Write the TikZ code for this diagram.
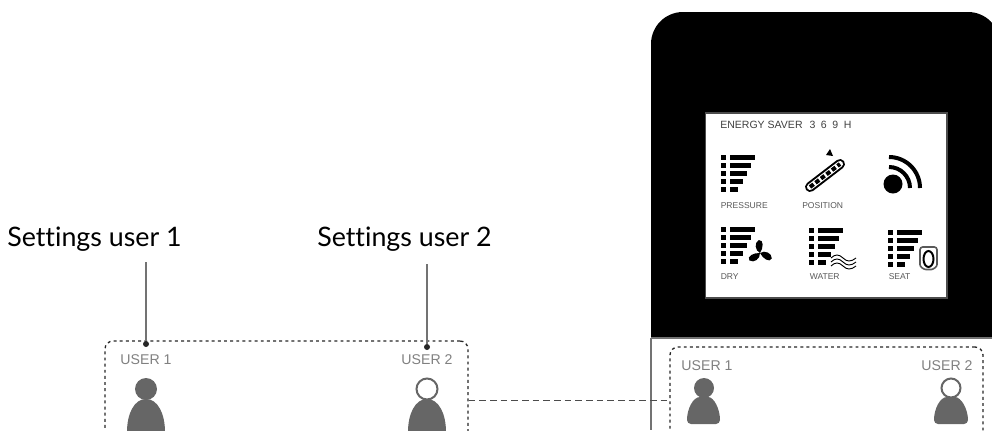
\documentclass[tikz,border=0pt]{standalone}
\usepackage{fontspec}
\setmainfont{Liberation Sans}
\newfontfamily\titlefont[Ligatures=NoCommon]{Lato}
\usetikzlibrary{positioning}
% one block of five level bars, from its top left corner
\newcommand{\levelbars}[2]{
  \foreach \row/\len in {0/25,1/21,2/17,3/13,4/8} {
    \fill (#1,#2+8*\row) rectangle +(5,5);
    \fill (#1+9,#2+8*\row) rectangle +(\len,5);
  }
}
\begin{document}
\begin{tikzpicture}[x=0.75pt,y=-0.75pt,
    title/.style={font=\titlefont\fontsize{20.1}{24}\selectfont, text=black, inner sep=0pt},
    user/.style={font=\fontsize{10.6}{12}\selectfont, text=black!50, inner sep=0pt},
    small/.style={font=\fontsize{6.4}{8}\selectfont, text=black!65, inner sep=0pt, anchor=base west},
    frame/.style={draw=black!85, dash pattern=on 2.2pt off 2.4pt, line width=1pt, rounded corners=6pt, minimum height=#1},
    lead/.style={draw=black!55, line width=1pt},
    tip/.style={circle, fill=black!85, inner sep=0pt, minimum size=4.5pt},
    link/.style={draw=black!70, dash pattern=on 5pt off 3pt, line width=0.7pt}]
  \useasboundingbox (0,0) rectangle (992,430);
  \clip (0,0) rectangle (992,430);
  % phone
  \fill (651,338) -- (651,44) arc[start angle=180, end angle=270, radius=32]
    -- (968,12) arc[start angle=270, end angle=360, radius=32] -- (1000,338) -- cycle;
  \draw[black!55, line width=1.5pt] (651,338) -- (992,338) (651,338) -- (651,430);
  \draw[fill=white, draw=black!70, line width=1pt] (705.5,113) rectangle (947,298);
  \node[inner sep=0pt, anchor=base west, font=\fontsize{7.9}{9}\selectfont, text=black!75] (saver) at (720,128) {ENERGY SAVER\hspace{3pt} 3\hspace{2pt} 6\hspace{2pt} 9\hspace{2pt} H};
  % screen icons
  \levelbars{721}{155}
  \levelbars{721}{227}
  \levelbars{809}{228}
  \levelbars{888}{230}
  \node[small] (pressure) at (720.5,208) {PRESSURE};
  \node[small] (position) at (802,208) {POSITION};
  \node[small] (dry) at (720.5,279) {DRY};
  \node[small] (water) at (809.5,279) {WATER};
  \node[small] (seat) at (888.5,279) {SEAT};
  % position icon
  \draw[line width=7.5pt, line cap=round] (810,187) -- (840,164);
  \draw[line width=4.5pt, white, line cap=round] (810,187) -- (840,164);
  \draw[line width=3pt, dash pattern=on 3.4pt off 1.8pt] (810,187) -- (840,164);
  \fill (830,149) -- (833,156) -- (826,155) -- cycle;
  % signal icon
  \fill (893,184) circle[radius=9.5];
  \draw[line width=3pt] (889,157) arc[start angle=270, end angle=360, radius=31];
  \draw[line width=3pt] (889,167) arc[start angle=270, end angle=360, radius=21];
  % fan icon
  \foreach \a in {5,125,245} {
    \fill[shift={(760,253)}, rotate=\a] (0,0) .. controls (-5,-3) and (-5,-11) .. (0,-13)
      .. controls (5,-13) and (4,-5) .. (0,0) -- cycle;
  }
  % waves icon
  \foreach \dy in {0,4,8} {
    \draw[line width=0.7pt] (831,258+\dy) .. controls (835,254+\dy) and (839,254+\dy) .. (843,258+\dy)
      .. controls (847,262+\dy) and (851,262+\dy) .. (856,258+\dy);
  }
  % seat icon
  \draw[black!65, line width=1.2pt, rounded corners=2pt] (920,247) -- (937,247) -- (937,262)
    .. controls (937,267) and (933,269.5) .. (928.5,269.5) .. controls (924,269.5) and (920,267) .. (920,262) -- cycle;
  \draw[line width=1.5pt] (928.5,259) ellipse[x radius=5, y radius=8];
  % user frames and what they hold
  \node[frame=118*0.75pt, minimum width=363*0.75pt] (frameleft) at (286.5,400) {};
  \node[frame=106*0.75pt, minimum width=313*0.75pt] (frameright) at (826.5,400) {};
  \draw[link] (frameleft.east) -- (frameright.west);
  \begin{scope}[black!60]
    \fill (146,389) circle[radius=11];
    \draw[line width=1.5pt, fill=white] (427,389) circle[radius=10.5];
    \fill (704,388) circle[radius=10];
    \draw[line width=1.5pt, fill=white] (951,388) circle[radius=9.5];
    \fill (127,432) .. controls (127,414) and (134,399) .. (146,399) .. controls (158,399) and (165,414) .. (165,432) -- cycle;
    \fill (408,432) .. controls (408,414) and (415,399) .. (427,399) .. controls (439,399) and (446,414) .. (446,432) -- cycle;
    \fill[rounded corners=3pt] (687,424) .. controls (687,409) and (693,397) .. (704,397) .. controls (714,397) and (720,409) .. (720,424) -- cycle;
    \fill[rounded corners=3pt] (934,424) .. controls (934,409) and (940,397) .. (951,397) .. controls (961,397) and (968,409) .. (968,424) -- cycle;
  \end{scope}
  \node[user] (userone) at (146,360) {USER 1};
  \node[user] (usertwo) at (427,360) {USER 2};
  \node[user] (userthree) at (707,366) {USER 1};
  \node[user] (userfour) at (947,366) {USER 2};
  % settings labels with their leaders
  \node[title] (settingsone) at (94.5,239) {Settings user 1};
  \node[title] (settingstwo) at (404.5,239) {Settings user 2};
  \coordinate (startone) at (146,262);
  \coordinate (starttwo) at (427,264);
  \node[tip] (tipone) at (146,344) {};
  \node[tip] (tiptwo) at (427,347) {};
  \draw[lead] (startone) -- (tipone);
  \draw[lead] (starttwo) -- (tiptwo);
\end{tikzpicture}
\end{document}
